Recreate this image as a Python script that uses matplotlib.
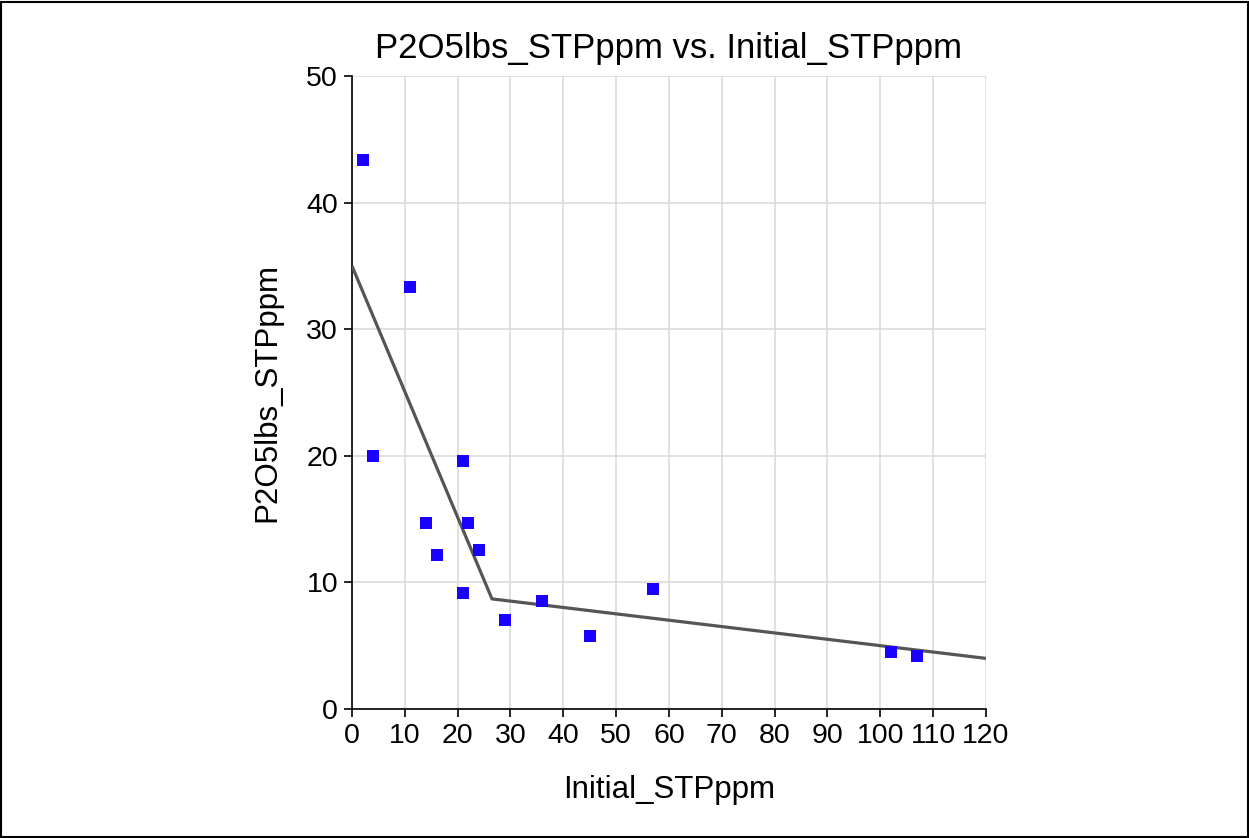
import matplotlib
matplotlib.use("Agg")
import matplotlib.pyplot as plt
from matplotlib.patches import Rectangle

plt.rcParams['font.family'] = ['Liberation Sans', 'DejaVu Sans']

initial_stp = [2, 11, 4, 21, 14, 22, 16, 24, 21, 29, 36, 45, 57, 102, 107]
p2o5_stp = [43.4, 33.3, 20.0, 19.6, 14.7, 14.7, 12.2, 12.6, 9.2, 7.0, 8.5, 5.8, 9.5, 4.5, 4.2]
fit_x = [0, 26.5, 120]
fit_y = [35.0, 8.7, 4.0]
x_ticks = list(range(0, 121, 10))
y_ticks = list(range(0, 51, 10))

fig = plt.figure(figsize=(12.49, 8.38), dpi=100)
ax = fig.add_axes([0.2818, 0.1539, 0.5076, 0.7554])

ax.plot(fit_x, fit_y, color='#555555', linewidth=2.3, zorder=3, solid_capstyle='butt')
ax.scatter(initial_stp, p2o5_stp, marker='s', s=70, color='#1a00ff', linewidths=0, zorder=4)

ax.set_xlim(0, 120)
ax.set_ylim(0, 50)
ax.set_xticks(x_ticks)
ax.set_yticks(y_ticks)
ax.grid(True, color='#d9d9d9', linewidth=1.1)
ax.set_axisbelow(True)
for s in ['top', 'right']:
    ax.spines[s].set_visible(False)
for s in ['left', 'bottom']:
    ax.spines[s].set_color('black')
    ax.spines[s].set_linewidth(1.2)
ax.tick_params(axis='both', direction='out', length=6, width=1.2, labelsize=20.5, pad=4, color='black')

ax.set_title('P2O5lbs_STPppm vs. Initial_STPppm', fontsize=25, pad=13)
ax.set_xlabel('Initial_STPppm', fontsize=22.5, labelpad=19)
ax.set_ylabel('P2O5lbs_STPppm', fontsize=22.5, labelpad=17)

fig.patches.append(Rectangle((0.001, 0.001), 0.998, 0.997, transform=fig.transFigure,
                             fill=False, edgecolor='black', linewidth=1.5))

fig.savefig('out.png', dpi=100)
